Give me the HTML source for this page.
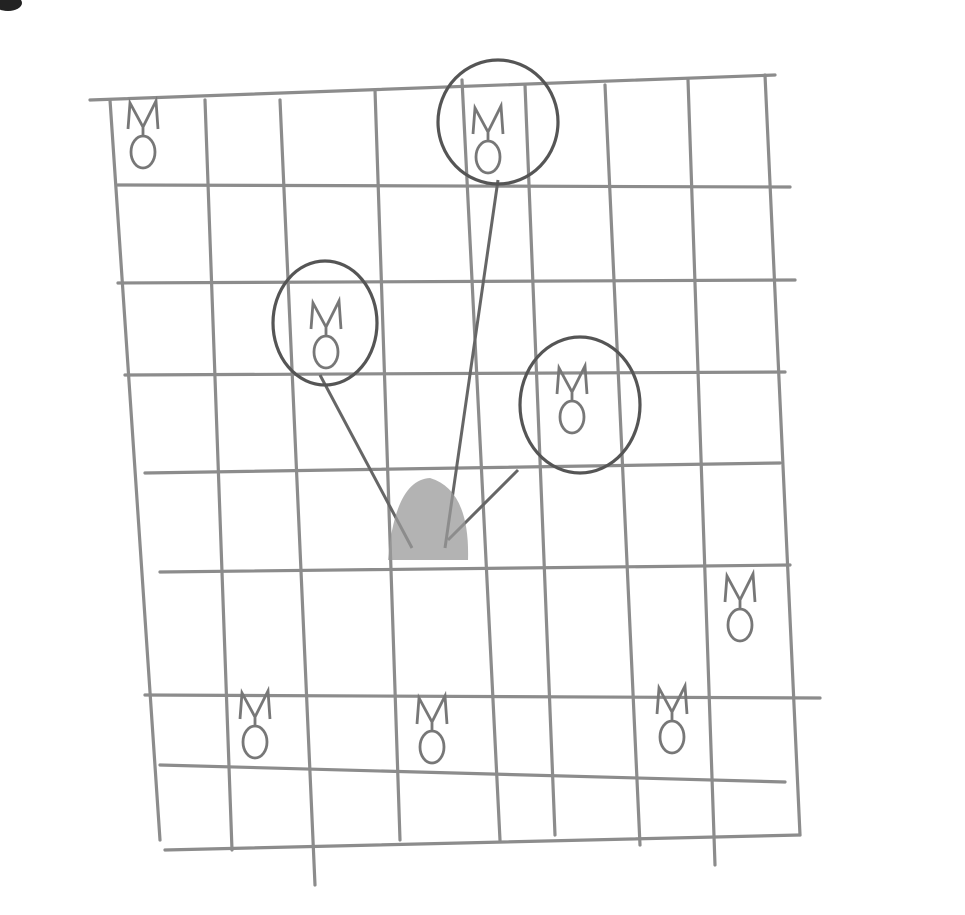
<!DOCTYPE html>
<html><head><meta charset="utf-8"><style>
html,body{margin:0;padding:0;background:#fff;width:965px;height:915px;overflow:hidden}
svg{display:block}
</style></head><body>
<svg id="sk" width="965" height="915" viewBox="0 0 965 915">
<ellipse cx="8" cy="3" rx="14" ry="8" fill="#222"/>
<g id="grid" stroke="#8c8c8c" stroke-width="3.2" fill="none" stroke-linecap="round"></g>
<g id="links" stroke="#666" stroke-width="3" fill="none"></g>
<path d="M388,560 Q395,480 430,478 Q470,490 468,560 Z" fill="#999" opacity="0.75"/>
<g id="circles" stroke="#555" stroke-width="3.2" fill="none"></g>
<g id="marks" stroke="#777" stroke-width="2.8" fill="none"></g>
</svg>
<script>
const vLines=[[110,100,160,840],[205,100,232,850],[280,100,315,885],[375,90,400,840],[462,80,500,840],[525,85,555,835],[605,85,640,845],[688,80,715,865],[765,75,800,835]];
const hLines=[[90,100,775,75],[118,185,790,187],[118,283,795,280],[125,375,785,372],[145,473,780,463],[160,572,790,565],[145,695,820,698],[160,765,785,782],[165,850,800,835]];
const circles=[[498,122,60,62],[325,323,52,62],[580,405,60,68]];
const links=[[320,375,412,548],[498,180,445,548],[518,470,448,540]];
const marks=[[143,135],[488,140],[326,335],[572,400],[255,725],[432,730],[672,720],[740,608]];
const NS='http://www.w3.org/2000/svg';
function mk(t,p,a){const e=document.createElementNS(NS,t);for(const k in a)e.setAttribute(k,a[k]);p.appendChild(e);return e;}
const g=document.getElementById('grid');
vLines.concat(hLines).forEach(l=>{const e=mk('line',g,{x1:l[0],y1:l[1],x2:l[2],y2:l[3]});

});
const lg=document.getElementById('links');
links.forEach(l=>{const e=mk('line',lg,{x1:l[0],y1:l[1],x2:l[2],y2:l[3]});

});
const cg=document.getElementById('circles');
circles.forEach(c=>{const e=mk('ellipse',cg,{cx:c[0],cy:c[1],rx:c[2],ry:c[3]});

});
const mg=document.getElementById('marks');
marks.forEach(m=>{const x=m[0],y=m[1];
const e=mk('path',mg,{d:`M${x-15},${y-6} L${x-13},${y-32} L${x},${y-8} L${x+13},${y-34} L${x+15},${y-6} M${x},${y-8} L${x},${y+2} M${x-12},${y+17} a12,16 0 1,0 24,0 a12,16 0 1,0 -24,0`});

});
</script>
</body></html>
